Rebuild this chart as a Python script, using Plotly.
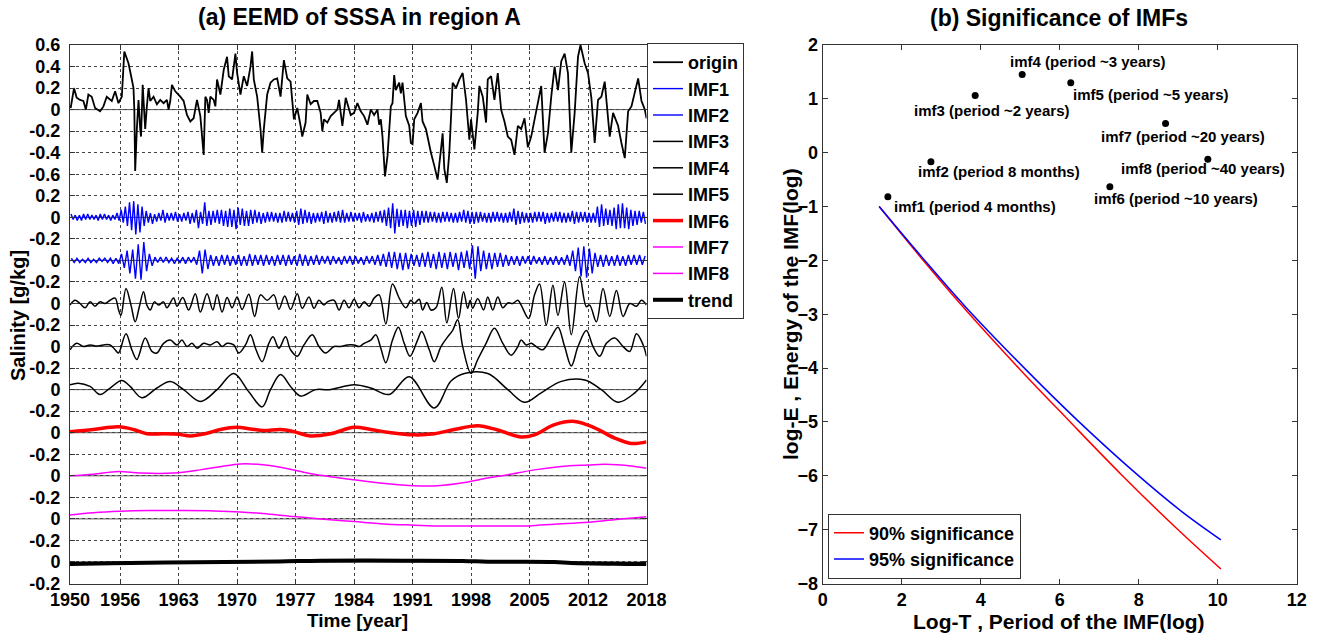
import numpy as np
import plotly.graph_objects as go

# ---------------- panel (a): EEMD components of SSSA, region A ----------------
origin_t = [1950.08, 1950.48, 1950.8, 1951.2, 1951.6, 1951.9, 1952.2, 1952.6, 1953.0, 1953.4,
            1953.6, 1954.0, 1954.4, 1955.0, 1955.4, 1955.8, 1956.2, 1956.5, 1957.0, 1957.4,
            1957.6, 1957.7, 1957.8, 1958.0, 1958.2, 1958.4, 1958.5, 1958.7, 1959.0, 1959.2,
            1959.4, 1959.6, 1960.0, 1960.4, 1960.8, 1961.2, 1961.6, 1961.8, 1962.0, 1962.2,
            1962.6, 1963.2, 1963.6, 1964.0, 1964.4, 1964.8, 1965.2, 1965.6, 1966.0, 1966.2,
            1966.4, 1966.6, 1966.8, 1967.2, 1967.4, 1967.6, 1968.0, 1968.4, 1968.8, 1969.0,
            1969.4, 1969.8, 1970.0, 1970.4, 1970.8, 1971.2, 1971.6, 1971.8, 1972.0, 1972.4,
            1972.8, 1973.0, 1973.2, 1973.6, 1974.0, 1974.4, 1974.8, 1975.2, 1975.6, 1976.0,
            1976.4, 1976.8, 1977.2, 1977.6, 1977.8, 1978.2, 1978.4, 1978.8, 1979.2, 1979.6,
            1980.0, 1980.2, 1980.4, 1980.8, 1981.2, 1981.6, 1982.0, 1982.2, 1982.6, 1983.0,
            1983.4, 1983.6, 1984.0, 1984.4, 1984.8, 1985.2, 1985.6, 1986.0, 1986.4, 1986.8,
            1987.0, 1987.2, 1987.4, 1987.6, 1987.7, 1988.0, 1988.4, 1988.6, 1988.8, 1989.0,
            1989.4, 1989.6, 1989.8, 1990.2, 1990.6, 1990.8, 1991.0, 1991.2, 1991.6, 1992.0,
            1992.2, 1992.6, 1993.0, 1993.2, 1993.6, 1994.0, 1994.4, 1994.6, 1994.8, 1995.1,
            1995.4, 1995.8, 1996.2, 1996.6, 1997.0, 1997.4, 1997.8, 1998.0, 1998.4, 1998.8,
            1999.0, 1999.4, 1999.8, 2000.0, 2000.4, 2000.8, 2001.2, 2001.6, 2002.0, 2002.4,
            2002.8, 2003.2, 2003.6, 2004.0, 2004.4, 2004.8, 2005.2, 2005.6, 2006.0, 2006.4,
            2006.8, 2007.2, 2007.6, 2008.0, 2008.4, 2008.8, 2009.2, 2009.6, 2010.0, 2010.4,
            2010.8, 2011.1, 2011.6, 2012.0, 2012.4, 2012.8, 2013.2, 2013.6, 2014.0, 2014.4,
            2014.6, 2015.0, 2015.6, 2016.0, 2016.4, 2016.8, 2017.2, 2018.0, 2018.4, 2018.8,
            2019.0]
origin_v = [0.015, 0.20, 0.11, 0.09, 0.08, 0.0, 0.14, 0.12, 0.015, 0.0,
            -0.015, 0.03, 0.12, 0.08, 0.17, 0.06, 0.12, 0.54, 0.43, 0.28,
            0.20, 0.0, -0.57, -0.18, 0.09, -0.18, -0.25, 0.23, -0.18, 0.03,
            0.20, 0.08, 0.12, 0.05, 0.09, 0.06, 0.09, 0.0, 0.08, 0.23,
            0.17, 0.12, 0.08, -0.05, -0.11, -0.08, 0.09, -0.06, -0.42, 0.12,
            0.09, -0.03, 0.12, 0.09, 0.03, 0.28, 0.14, 0.37, 0.49, 0.31,
            0.28, 0.52, 0.34, 0.14, 0.31, 0.22, 0.40, 0.54, 0.28, 0.12,
            -0.18, -0.40, -0.18, 0.14, 0.25, 0.28, 0.29, 0.12, 0.46, 0.29,
            0.26, -0.09, 0.015, -0.15, -0.25, -0.12, 0.14, 0.05, 0.08, 0.08,
            -0.03, -0.20, -0.09, -0.12, -0.06, -0.03, 0.0, 0.09, -0.15, 0.11,
            -0.015, -0.05, -0.03, 0.06, -0.015, -0.06, -0.14, 0.0, -0.05, 0.0,
            -0.14, -0.09, -0.25, -0.49, -0.62, -0.43, 0.03, 0.06, 0.32, 0.18,
            0.25, 0.15, 0.25, -0.06, -0.15, -0.31, -0.32, -0.09, -0.03, 0.06,
            -0.11, -0.18, -0.34, -0.40, -0.52, -0.65, -0.37, -0.22, -0.55, -0.68,
            -0.40, 0.25, 0.20, 0.28, 0.34, 0.09, -0.28, -0.09, -0.37, -0.03,
            0.22, 0.12, -0.12, 0.28, 0.31, 0.09, 0.34, 0.0, -0.11, -0.25,
            -0.28, -0.42, -0.15, -0.18, -0.08, -0.35, -0.25, -0.09, 0.05, 0.22,
            -0.40, -0.22, 0.12, 0.40, 0.18, 0.45, 0.52, 0.34, -0.40, -0.03,
            0.49, 0.60, 0.43, 0.34, 0.11, -0.31, 0.09, 0.12, 0.26, -0.09,
            -0.25, -0.03, -0.15, -0.31, -0.45, -0.015, 0.03, 0.29, 0.08, 0.0,
            -0.08]

# IMF1: quarterly samples, one row per year 1950..2018
imf1_v = [
    0.03, -0.02, 0.02, -0.03,   0.02, -0.03, 0.03, -0.02,   0.03, -0.02, 0.02, -0.02,
    0.02, -0.03, 0.03, -0.02,   0.03, -0.02, 0.02, -0.03,   0.02, -0.02, 0.04, -0.03,
    0.07, -0.05, 0.10, -0.08,   0.14, -0.12, 0.15, -0.16,   0.12, -0.14, 0.10, -0.08,
    0.06, -0.05, 0.04, -0.06,   0.03, -0.04, 0.04, -0.03,   0.07, -0.05, 0.04, -0.03,
    0.04, -0.03, 0.05, -0.04,   0.03, -0.04, 0.04, -0.03,   0.05, -0.06, 0.04, -0.05,
    0.07, -0.10, 0.05, -0.06,   0.14, -0.08, 0.06, -0.07,   0.06, -0.05, 0.07, -0.06,
    0.07, -0.08, 0.06, -0.09,   0.08, -0.09, 0.07, -0.11,   0.09, -0.07, 0.08, -0.08,
    0.06, -0.08, 0.07, -0.06,   0.07, -0.05, 0.05, -0.06,   0.04, -0.05, 0.05, -0.04,
    0.05, -0.04, 0.04, -0.05,   0.04, -0.05, 0.06, -0.04,   0.05, -0.04, 0.04, -0.05,
    0.06, -0.07, 0.08, -0.06,   0.07, -0.05, 0.05, -0.06,   0.04, -0.05, 0.04, -0.04,
    0.05, -0.06, 0.06, -0.05,   0.04, -0.05, 0.05, -0.04,   0.06, -0.05, 0.07, -0.05,
    0.04, -0.04, 0.05, -0.04,   0.04, -0.03, 0.04, -0.05,   0.05, -0.04, 0.03, -0.04,
    0.04, -0.05, 0.05, -0.04,   0.06, -0.05, 0.07, -0.08,   0.09, -0.10, 0.13, -0.15,
    0.08, -0.09, 0.07, -0.08,   0.07, -0.10, 0.06, -0.08,   0.07, -0.09, 0.06, -0.07,
    0.06, -0.05, 0.06, -0.05,   0.05, -0.04, 0.05, -0.05,   0.04, -0.05, 0.05, -0.04,
    0.05, -0.04, 0.04, -0.05,   0.04, -0.05, 0.05, -0.04,   0.07, -0.05, 0.06, -0.06,
    0.05, -0.06, 0.05, -0.05,   0.05, -0.04, 0.04, -0.05,   0.04, -0.05, 0.05, -0.04,
    0.05, -0.04, 0.04, -0.05,   0.04, -0.05, 0.05, -0.04,   0.08, -0.07, 0.06, -0.06,
    0.05, -0.05, 0.04, -0.05,   0.04, -0.05, 0.05, -0.04,   0.05, -0.04, 0.05, -0.06,
    0.04, -0.05, 0.04, -0.04,   0.05, -0.04, 0.05, -0.05,   0.04, -0.05, 0.04, -0.04,
    0.06, -0.06, 0.05, -0.05,   0.05, -0.04, 0.05, -0.05,   0.04, -0.05, 0.04, -0.05,
    0.10, -0.09, 0.12, -0.08,   0.08, -0.07, 0.07, -0.08,   0.09, -0.11, 0.12, -0.10,
    0.13, -0.10, 0.09, -0.11,   0.07, -0.08, 0.06, -0.07,   0.06, -0.05, 0.05, -0.06,
]

# IMF2: samples every four months, one row per year 1950..2018
imf2_v = [
    0.02, -0.02, 0.02,   -0.02, 0.01, -0.02,   0.02, -0.02, 0.01,   -0.02, 0.02, -0.01,
    0.02, -0.02, 0.02,   -0.03, 0.02, -0.03,   0.06, -0.07, 0.09,   -0.12, 0.10, -0.17,
    0.15, -0.18, 0.17,   -0.10, 0.06, -0.05,   0.03, -0.02, 0.03,   -0.02, 0.03, -0.02,
    0.02, -0.03, 0.02,   -0.02, 0.03, -0.03,   0.03, -0.02, 0.03,   -0.04, 0.09, -0.12,
    0.10, -0.08, 0.05,   -0.05, 0.04, -0.05,   0.05, -0.04, 0.05,   -0.05, 0.04, -0.04,
    0.05, -0.05, 0.04,   -0.05, 0.06, -0.05,   0.05, -0.04, 0.05,   -0.05, 0.05, -0.04,
    0.04, -0.05, 0.05,   -0.04, 0.05, -0.05,   0.05, -0.04, 0.04,   -0.05, 0.06, -0.05,
    0.05, -0.05, 0.04,   -0.04, 0.05, -0.04,   0.04, -0.03, 0.04,   -0.04, 0.04, -0.03,
    0.03, -0.04, 0.04,   -0.03, 0.04, -0.04,   0.04, -0.03, 0.03,   -0.04, 0.04, -0.03,
    0.04, -0.04, 0.05,   -0.05, 0.06, -0.06,   0.08, -0.07, 0.08,   -0.08, 0.07, -0.09,
    0.07, -0.08, 0.06,   -0.05, 0.05, -0.06,   0.07, -0.06, 0.08,   -0.07, 0.06, -0.08,
    0.08, -0.07, 0.07,   -0.08, 0.08, -0.06,   0.07, -0.09, 0.08,   -0.07, 0.09, -0.08,
    0.14, -0.17, 0.13,   -0.10, 0.09, -0.08,   0.07, -0.08, 0.07,   -0.06, 0.07, -0.06,
    0.05, -0.05, 0.04,   -0.04, 0.04, -0.05,   0.04, -0.03, 0.04,   -0.04, 0.04, -0.03,
    0.03, -0.04, 0.04,   -0.04, 0.03, -0.04,   0.04, -0.04, 0.03,   -0.04, 0.05, -0.05,
    0.09, -0.10, 0.12,   -0.15, 0.13, -0.16,   0.11, -0.12, 0.07,   -0.06, 0.05, -0.06,
    0.05, -0.05, 0.04,   -0.05, 0.05, -0.05,   0.04, -0.05, 0.05,   -0.04, 0.05, -0.04,
    0.05, -0.04, 0.04,
]

imf3_t = [1950.0, 1950.6, 1951.2, 1951.8, 1952.4, 1953.0, 1953.6, 1954.2, 1954.8, 1955.4,
          1955.8, 1956.1, 1956.7, 1957.3, 1957.8, 1958.3, 1958.8, 1959.2, 1959.6, 1960.1,
          1960.6, 1961.2, 1961.6, 1962.4, 1962.8, 1963.5, 1964.2, 1965.0, 1965.6, 1966.4,
          1967.1, 1967.6, 1968.2, 1968.8, 1969.4, 1970.0, 1970.6, 1971.4, 1972.1, 1972.8,
          1973.6, 1974.4, 1975.0, 1975.7, 1976.4, 1977.2, 1977.8, 1978.6, 1979.2, 1979.8,
          1980.4, 1980.8, 1981.6, 1982.2, 1982.8, 1983.4, 1984.0, 1984.6, 1985.2, 1985.8,
          1986.4, 1987.0, 1987.8, 1988.6, 1989.4, 1990.2, 1990.8, 1991.2, 1991.8, 1992.2,
          1992.7, 1993.2, 1993.8, 1994.5, 1995.1, 1995.9, 1996.5, 1997.1, 1997.6, 1997.9,
          1998.2, 1998.8, 1999.5, 2000.0, 2000.6, 2001.2, 2001.8, 2002.4, 2003.0, 2003.6,
          2004.0, 2004.9, 2005.6, 2006.2, 2007.0, 2007.8, 2008.4, 2009.2, 2010.0, 2011.0,
          2011.8, 2012.2, 2013.0, 2013.8, 2014.6, 2015.4, 2016.2, 2017.0, 2017.8, 2018.4,
          2019.0]
imf3_v = [-0.015, 0.03, 0.0, -0.04, 0.015, -0.025, 0.015, 0.0, 0.03, 0.05,
          -0.055, -0.11, 0.14, -0.015, -0.17, -0.03, 0.11, -0.015, -0.06, 0.015,
          -0.015, 0.015, -0.04, 0.05, -0.025, 0.055, -0.06, 0.09, -0.08, 0.09,
          -0.06, 0.08, -0.08, 0.055, -0.04, 0.06, -0.055, 0.085, -0.12, 0.08,
          0.03, 0.08, -0.055, 0.07, -0.055, 0.09, -0.045, 0.06, -0.045, 0.03,
          -0.015, 0.015, 0.03, -0.06, 0.03, -0.04, 0.04, -0.04, 0.015, -0.025,
          0.05, 0.08, -0.19, 0.18, 0.05, -0.04, 0.03, 0.0, 0.04, -0.06,
          0.01, -0.06, -0.04, 0.15, -0.18, 0.14, -0.14, 0.11, -0.045, 0.03,
          -0.045, 0.045, -0.06, 0.06, -0.06, 0.06, -0.04, 0.005, 0.0, 0.03,
          -0.015, -0.14, 0.08, 0.18, -0.20, 0.17, -0.11, 0.20, -0.29, 0.25,
          -0.03, -0.015, -0.17, 0.14, -0.12, 0.12, -0.12, 0.0, -0.025, 0.03,
          -0.015]

imf4_t = [1950.0, 1950.8, 1951.6, 1952.4, 1953.2, 1954.0, 1954.8, 1955.4, 1955.8, 1956.7,
          1957.4, 1958.0, 1959.0, 1959.8, 1960.4, 1961.2, 1962.0, 1962.8, 1963.4, 1964.0,
          1964.6, 1965.2, 1966.0, 1966.8, 1967.6, 1968.2, 1968.8, 1969.6, 1970.2, 1971.0,
          1971.6, 1972.2, 1973.0, 1973.8, 1974.3, 1975.0, 1975.8, 1976.4, 1977.2, 1978.0,
          1979.0, 1979.8, 1980.6, 1981.6, 1982.4, 1983.2, 1984.0, 1984.6, 1985.2, 1986.0,
          1986.6, 1987.2, 1987.8, 1988.6, 1989.3, 1990.0, 1990.7, 1991.6, 1992.1, 1993.0,
          1993.6, 1994.4, 1995.2, 1995.8, 1996.4, 1997.0, 1998.0, 1998.8, 1999.8, 2000.8,
          2001.8, 2002.8, 2003.6, 2004.0, 2004.6, 2005.2, 2005.8, 2006.6, 2007.6, 2008.4,
          2009.2, 2010.0, 2010.8, 2011.8, 2012.6, 2013.4, 2014.2, 2015.2, 2016.2, 2017.0,
          2017.8, 2018.6, 2019.0]
imf4_v = [-0.03, 0.03, 0.0, 0.015, 0.005, 0.015, 0.015, -0.03, -0.06, 0.12,
          -0.03, -0.12, 0.08, -0.045, -0.06, 0.03, 0.06, 0.015, 0.06, 0.0,
          0.03, -0.015, 0.03, 0.015, 0.045, 0.0, 0.03, 0.015, -0.06, 0.015,
          0.11, -0.015, -0.14, 0.03, 0.09, -0.015, 0.09, -0.03, -0.09, 0.015,
          0.11, 0.0, -0.06, 0.0, 0.0, 0.015, 0.015, 0.0, 0.03, 0.06,
          0.11, -0.015, -0.15, 0.06, 0.18, 0.03, -0.09, 0.06, 0.14, -0.03,
          -0.14, 0.0, 0.09, 0.15, 0.25, 0.0, -0.25, -0.12, 0.03, 0.17,
          0.03, -0.08, 0.0, 0.06, 0.015, 0.03, 0.0, -0.03, 0.09, 0.18,
          0.0, -0.18, 0.0, 0.15, 0.0, -0.09, 0.03, 0.08, 0.0, -0.045,
          0.12, 0.015, -0.09]

imf5_t = [1950.0, 1951.0, 1952.4, 1953.6, 1954.8, 1956.2, 1957.2, 1958.6, 1960.4, 1962.0,
          1963.6, 1965.6, 1967.6, 1969.6, 1971.4, 1973.0, 1974.0, 1975.2, 1976.4, 1977.6,
          1979.4, 1981.0, 1984.0, 1986.0, 1988.2, 1990.6, 1993.6, 1995.6, 1997.2, 2000.0,
          2002.4, 2004.4, 2006.4, 2008.8, 2011.6, 2013.6, 2015.6, 2017.6, 2019.0]
imf5_v = [0.045, 0.06, 0.03, -0.045, 0.015, 0.085, 0.03, -0.075, 0.015, 0.075,
          0.0, -0.11, 0.0, 0.15, -0.02, -0.16, 0.0, 0.14, 0.03, -0.06,
          0.0, 0.0, 0.045, 0.015, -0.045, 0.12, -0.17, 0.08, 0.15, 0.15,
          0.0, -0.117, -0.03, 0.077, 0.09, 0.0, -0.117, -0.03, 0.09]

imf6_t = [1950.0, 1952.8, 1955.8, 1957.6, 1959.2, 1961.2, 1963.0, 1964.4, 1966.4, 1968.0,
          1970.0, 1971.6, 1973.2, 1975.2, 1976.8, 1978.8, 1981.2, 1984.0, 1986.0, 1988.0,
          1991.2, 1993.6, 1996.0, 1998.8, 2001.2, 2004.0, 2005.6, 2008.0, 2010.4, 2012.8,
          2015.2, 2017.2, 2019.0]
imf6_v = [0.01, 0.03, 0.055, 0.03, -0.01, -0.01, -0.015, -0.03, -0.005, 0.03,
          0.05, 0.035, 0.02, 0.03, 0.01, -0.03, -0.01, 0.05, 0.03, 0.005,
          -0.02, -0.01, 0.03, 0.065, 0.025, -0.04, -0.02, 0.075, 0.105, 0.045,
          -0.05, -0.10, -0.085]

imf7_t = [1950.0, 1952.8, 1955.8, 1958.4, 1962.4, 1965.6, 1968.0, 1970.4, 1972.8, 1975.2,
          1977.6, 1979.6, 1984.0, 1988.0, 1991.2, 1994.0, 1997.2, 2000.0, 2002.4, 2005.6,
          2008.8, 2012.0, 2014.0, 2017.2, 2019.0]
imf7_v = [0.0, 0.015, 0.04, 0.025, 0.025, 0.055, 0.085, 0.11, 0.105, 0.08,
          0.04, 0.01, -0.037, -0.074, -0.092, -0.092, -0.062, -0.02, 0.01, 0.055,
          0.086, 0.10, 0.108, 0.092, 0.07]

imf8_t = [1950.0, 1952.8, 1956.0, 1959.6, 1963.2, 1967.2, 1970.4, 1973.6, 1976.8, 1980.0,
          1984.0, 1988.0, 1991.2, 1993.6, 1998.0, 2004.8, 2008.0, 2012.0, 2016.0, 2019.0]
imf8_v = [0.037, 0.058, 0.071, 0.077, 0.077, 0.074, 0.065, 0.046, 0.022, 0.0,
          -0.025, -0.049, -0.058, -0.065, -0.065, -0.065, -0.049, -0.031, 0.0, 0.02]

trend_t = [1950.0, 1955.0, 1965.0, 1975.0, 1980.0, 1990.0, 1997.0, 2000.0, 2008.0, 2010.0,
           2017.0, 2019.0]
trend_v = [-0.018, -0.012, -0.003, 0.005, 0.012, 0.012, 0.01, 0.003, 0.0, -0.01,
           -0.018, -0.02]

year_ticks = [1950, 1956, 1963, 1970, 1977, 1984, 1991, 1998, 2005, 2012, 2019]
year_labels = ["1950", "1956", "1963", "1970", "1977", "1984", "1991", "1998", "2005", "2012", "2018"]
sal_ticks = [0.6, 0.4, 0.2, 0.0, -0.2, -0.4, -0.6, -0.8, -1.0, -1.2, -1.4, -1.6, -1.8,
             -2.0, -2.2, -2.4, -2.6, -2.8, -3.0, -3.2, -3.4, -3.6, -3.8, -4.0, -4.2, -4.4]
sal_labels = ["0.6", "0.4", "0.2", "0", "-0.2", "-0.4", "-0.6", "0.2", "0", "-0.2", "0", "-0.2",
              "0", "-0.2", "0", "-0.2", "0", "-0.2", "0", "-0.2", "0", "-0.2", "0", "-0.2", "0", "-0.2"]

# ---------------- panel (b): significance test of the IMFs ----------------
imf_names = ["imf1 (period 4 months)", "imf2 (period 8 months)", "imf3 (period ~2 years)",
             "imf4 (period ~3 years)", "imf5 (period ~5 years)", "imf6 (period ~10 years)",
             "imf7 (period ~20 years)", "imf8 (period ~40 years)"]
log_period = [1.65, 2.74, 3.86, 5.05, 6.28, 7.27, 8.68, 9.75]
log_energy = [-0.82, -0.17, 1.06, 1.45, 1.30, -0.63, 0.54, -0.12]

sig90_x = [1.43, 2.5, 3.5, 5.0, 6.2, 7.55, 8.95, 10.08]
sig90_y = [-1.0, -1.96, -2.82, -4.03, -4.95, -5.97, -6.97, -7.73]
sig95_x = [1.43, 2.5, 3.6, 5.2, 6.45, 7.95, 9.1, 10.08]
sig95_y = [-1.0, -1.93, -2.85, -4.07, -4.97, -5.97, -6.67, -7.19]

# ---------------- figure ----------------
W, H = 1318, 636
FONT = "Liberation Sans"
fig = go.Figure()

# vertical stacking of the components on the shared salinity axis
offsets = {"origin": 0.0, "IMF1": -1.0, "IMF2": -1.4, "IMF3": -1.8, "IMF4": -2.2,
           "IMF5": -2.6, "IMF6": -3.0, "IMF7": -3.4, "IMF8": -3.8, "trend": -4.2}

imf1_t = 1950 + (np.arange(len(imf1_v)) + 0.5) / 4.0
imf2_t = 1950 + (np.arange(len(imf2_v)) + 0.5) / 3.0

series = [
    ("origin", origin_t, origin_v, "black", 1.8, "linear"),
    ("IMF1", imf1_t, imf1_v, "#0000ff", 1.4, "linear"),
    ("IMF2", imf2_t, imf2_v, "#0000ff", 1.4, "linear"),
    ("IMF3", imf3_t, imf3_v, "black", 1.5, "spline"),
    ("IMF4", imf4_t, imf4_v, "black", 1.5, "spline"),
    ("IMF5", imf5_t, imf5_v, "black", 1.5, "spline"),
    ("IMF6", imf6_t, imf6_v, "#ff0000", 3.5, "spline"),
    ("IMF7", imf7_t, imf7_v, "#ff00ff", 1.5, "spline"),
    ("IMF8", imf8_t, imf8_v, "#ff00ff", 1.5, "spline"),
    ("trend", trend_t, trend_v, "black", 4.0, "spline"),
]

# zero reference line of every component
for name, off in offsets.items():
    fig.add_shape(type="line", xref="x", yref="y", x0=1950, x1=2019, y0=off, y1=off,
                  line=dict(color="#555555", width=1), layer="below")

for name, t, v, col, w, shape in series:
    off = offsets[name]
    fig.add_trace(go.Scatter(
        x=t, y=np.asarray(v) + off, mode="lines", name=name,
        line=dict(color=col, width=w, shape=shape),
        xaxis="x", yaxis="y", legend="legend", hoverinfo="skip"))

# significance curves
fig.add_trace(go.Scatter(x=sig90_x, y=sig90_y, mode="lines", name="90% significance",
                         line=dict(color="#ff0000", width=1.5, shape="spline"),
                         xaxis="x2", yaxis="y2", legend="legend2"))
fig.add_trace(go.Scatter(x=sig95_x, y=sig95_y, mode="lines", name="95% significance",
                         line=dict(color="#0000ff", width=1.5, shape="spline"),
                         xaxis="x2", yaxis="y2", legend="legend2"))
fig.add_trace(go.Scatter(x=log_period, y=log_energy, mode="markers", showlegend=False,
                         marker=dict(color="black", size=7),
                         xaxis="x2", yaxis="y2"))

# IMF labels beside the points
label_x = [1.75, 2.35, 2.25, 4.70, 6.28, 6.81, 7.00, 7.50]
label_y = [-0.99, -0.35, 0.79, 1.69, 1.09, -0.855, 0.30, -0.29]
annotations = []
for name, lx, ly in zip(imf_names, label_x, label_y):
    annotations.append(dict(x=lx, y=ly, xref="x2", yref="y2", text=name, showarrow=False,
                            xanchor="left", yanchor="middle",
                            font=dict(family=FONT, size=15, color="black", weight="bold")))

def paper_text(text, px, py, size, angle=0):
    return dict(x=px / W, y=1 - py / H, xref="paper", yref="paper", text=text,
                showarrow=False, xanchor="center", yanchor="middle", textangle=angle,
                font=dict(family=FONT, size=size, color="black", weight="bold"))

annotations += [
    paper_text("(a) EEMD of SSSA in region A", 360, 17, 23),
    paper_text("(b) Significance of IMFs", 1059, 18, 23),
    paper_text("Time [year]", 358, 620, 19),
    paper_text("Log-T , Period of the IMF(log)", 1059, 621, 21),
    paper_text("Salinity [g/kg]", 18, 316, 20, -90),
    paper_text("log-E , Energy of the IMF(log)", 790, 314, 21, -90),
]

ydom = [1 - 583.5 / H, 1 - 45 / H]
tickfont = dict(family=FONT, size=18, color="black", weight="bold")
axis_common = dict(showline=True, linecolor="#333333", linewidth=1, mirror="ticks",
                   ticks="inside", ticklen=5, tickcolor="#333333", zeroline=False,
                   tickfont=tickfont, automargin=False)

fig.update_layout(
    width=W, height=H, template="none",
    paper_bgcolor="white", plot_bgcolor="white",
    margin=dict(l=0, r=0, t=0, b=0),
    font=dict(family=FONT, size=18, color="black", weight="bold"),
    showlegend=True,
    xaxis=dict(domain=[70 / W, 646.5 / W], range=[1950, 2019], tickvals=year_ticks,
               ticktext=year_labels, showgrid=True, gridcolor="#444444", griddash="dot",
               gridwidth=1, anchor="y", **axis_common),
    yaxis=dict(domain=ydom, range=[-4.4, 0.6], tickvals=sal_ticks, ticktext=sal_labels,
               showgrid=True, gridcolor="#444444", griddash="dot", gridwidth=1,
               anchor="x", ticklabelstandoff=5, **axis_common),
    xaxis2=dict(domain=[822.7 / W, 1296.7 / W], range=[0, 12], dtick=2, tick0=0,
                showgrid=False, anchor="y2", **axis_common),
    yaxis2=dict(domain=ydom, range=[-8, 2], dtick=1, tick0=0, showgrid=False,
                anchor="x2", **axis_common),
    legend=dict(x=647 / W, y=1 - 43 / H, xanchor="left", yanchor="top",
                bgcolor="white", bordercolor="#333333", borderwidth=1,
                font=dict(family=FONT, size=18, color="black", weight="bold"),
                tracegroupgap=0),
    legend2=dict(x=828 / W, y=1 - 578.5 / H, xanchor="left", yanchor="bottom",
                 bgcolor="white", bordercolor="#333333", borderwidth=1,
                 font=dict(family=FONT, size=18, color="black", weight="bold")),
    annotations=annotations,
)

fig.write_html("out.html")
